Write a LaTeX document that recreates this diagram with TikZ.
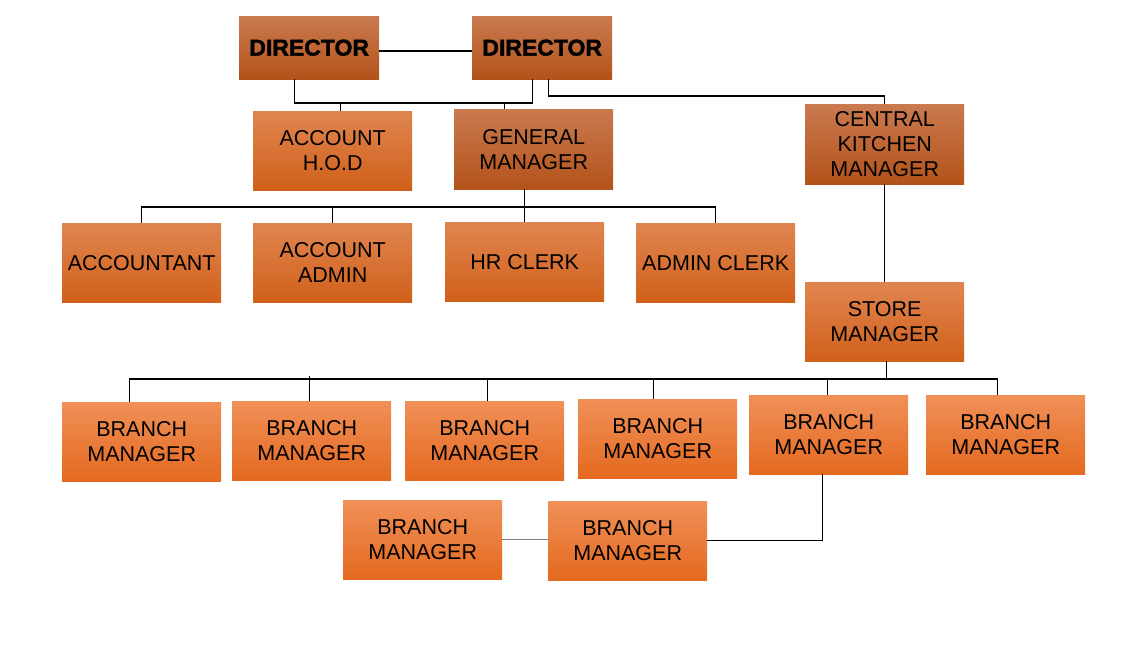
\documentclass[tikz,border=0pt]{standalone}
\usepackage{fontspec}
\setmainfont{Liberation Sans}
\newfontfamily\dirfont[FakeBold=1.6]{Liberation Sans Bold}
\definecolor{dkT}{HTML}{C97A4F}
\definecolor{dkB}{HTML}{B3521A}
\definecolor{mdT}{HTML}{E08550}
\definecolor{mdB}{HTML}{D0601A}
\definecolor{brT}{HTML}{F09058}
\definecolor{brB}{HTML}{E4691F}
\begin{document}
\begin{tikzpicture}[x=1pt,y=-1pt,
  box/.style={anchor=north west,inner sep=0pt,align=center,text=black,
    font=\fontsize{21.5}{25}\selectfont,minimum width=159pt,minimum height=79pt},
  dark/.style={box,top color=dkT,bottom color=dkB},
  mid/.style={box,top color=mdT,bottom color=mdB},
  bright/.style={box,top color=brT,bottom color=brB},
  dir/.style={dark,minimum width=140pt,minimum height=63pt,font=\fontsize{23}{26}\dirfont},
  conn/.style={draw=black,line width=1.3pt}]
\useasboundingbox (0,0) rectangle (1131,651);
% nodes
\node[dir] (d1) at (239,16) {DIRECTOR};
\node[dir] (d2) at (472,16) {DIRECTOR};
\node[mid] (hod) at (253,111) {ACCOUNT\\H.O.D};
\node[dark,minimum height=80pt] (gm) at (454,109) {GENERAL\\MANAGER};
\node[dark,minimum height=80pt] (ckm) at (805,104) {CENTRAL\\KITCHEN\\MANAGER};
\node[mid] (acc) at (62,223) {ACCOUNTANT};
\node[mid] (aad) at (253,223) {ACCOUNT\\ADMIN};
\node[mid] (hr) at (445,222) {HR CLERK};
\node[mid] (adc) at (636,223) {ADMIN CLERK};
\node[mid] (sm) at (805,282) {STORE\\MANAGER};
\node[bright] (b1) at (62,402) {BRANCH\\MANAGER};
\node[bright] (b2) at (232,401) {BRANCH\\MANAGER};
\node[bright] (b3) at (405,401) {BRANCH\\MANAGER};
\node[bright] (b4) at (578,399) {BRANCH\\MANAGER};
\node[bright] (b5) at (749,395) {BRANCH\\MANAGER};
\node[bright] (b6) at (926,395) {BRANCH\\MANAGER};
\node[bright] (b7) at (343,500) {BRANCH\\MANAGER};
\node[bright] (b8) at (548,501) {BRANCH\\MANAGER};
% bus levels
\coordinate (busA) at (0,103);
\coordinate (busB) at (0,96);
\coordinate (busC) at (0,207);
\coordinate (busD) at (0,379);
% connectors
\draw[conn] (d1.east |- 0,51) -- (d2.west |- 0,51);
\draw[conn] ([xshift=-15pt]d1.south) |- ([xshift=-10pt]d2.south |- busA) -- ([xshift=-10pt]d2.south);
\draw[conn] ([xshift=7.5pt]hod.north) -- ([xshift=7.5pt]hod.north |- busA);
\draw[conn] ([xshift=-29.5pt]gm.north) -- ([xshift=-29.5pt]gm.north |- busA);
\draw[conn] ([xshift=6pt]d2.south) |- (ckm.north |- busB) -- (ckm.north);
\draw[conn] ([xshift=-9.5pt]gm.south) -- ([xshift=-9.5pt]gm.south |- busC);
\draw[conn] (acc.north) |- (adc.north |- busC) -- (adc.north);
\draw[conn] (aad.north) -- (aad.north |- busC);
\draw[conn] (hr.north) -- (hr.north |- busC);
\draw[conn] (ckm.south) -- (sm.north);
\draw[conn] ([xshift=1.5pt]sm.south) -- ([xshift=1.5pt]sm.south |- busD);
\draw[conn] ([xshift=-12.5pt]b1.north) |- ([xshift=-8.5pt]b6.north |- busD) -- ([xshift=-8.5pt]b6.north);
\draw[conn] ([xshift=-2.5pt]b2.north) -- ([xshift=-2.5pt,yshift=3pt]b2.north |- busD);
\draw[conn] ([xshift=2.5pt]b3.north) -- ([xshift=2.5pt]b3.north |- busD);
\draw[conn] ([xshift=-4.5pt]b4.north) -- ([xshift=-4.5pt]b4.north |- busD);
\draw[conn] ([xshift=-1.5pt]b5.north) -- ([xshift=-1.5pt]b5.north |- busD);
\draw[conn] ([xshift=-6.5pt]b5.south) |- (b8.east);
\draw[conn,draw=gray] (b7.east) -- (b7.east -| b8.west);
\end{tikzpicture}
\end{document}
